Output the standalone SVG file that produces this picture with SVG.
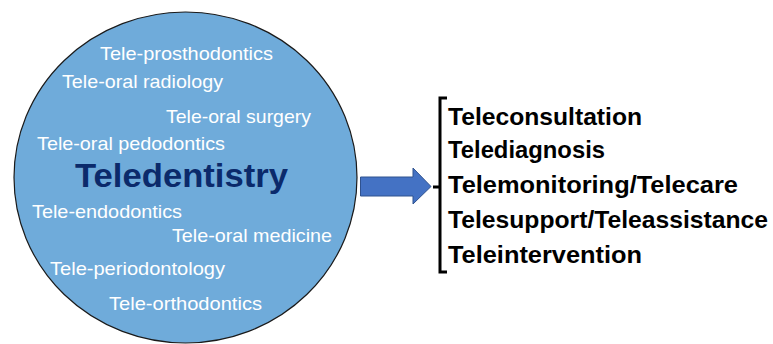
<svg xmlns="http://www.w3.org/2000/svg" width="773" height="344" viewBox="0 0 773 344">
<style>
.w{font-family:"Liberation Sans",Arial,sans-serif;font-size:19px;fill:#ffffff}
.main{font-family:"Liberation Sans",Arial,sans-serif;font-size:34px;font-weight:bold;fill:#0b2a6b}
.r{font-family:"Liberation Sans",Arial,sans-serif;font-size:24px;font-weight:bold;fill:#000000}
</style>
<rect width="773" height="344" fill="#ffffff"/>
<g id="circle">
<ellipse cx="185.5" cy="177.5" rx="171.5" ry="165.5" fill="#6fabda" stroke="#1a1a1a" stroke-width="1.2"/>
<text class="w" x="100" y="60" textLength="173" lengthAdjust="spacingAndGlyphs">Tele-prosthodontics</text>
<text class="w" x="62" y="88" textLength="161" lengthAdjust="spacingAndGlyphs">Tele-oral radiology</text>
<text class="w" x="166" y="123" textLength="145" lengthAdjust="spacingAndGlyphs">Tele-oral surgery</text>
<text class="w" x="37" y="150" textLength="188" lengthAdjust="spacingAndGlyphs">Tele-oral pedodontics</text>
<text class="main" x="75" y="187" textLength="213" lengthAdjust="spacingAndGlyphs">Teledentistry</text>
<text class="w" x="32" y="218" textLength="150" lengthAdjust="spacingAndGlyphs">Tele-endodontics</text>
<text class="w" x="172" y="242" textLength="160" lengthAdjust="spacingAndGlyphs">Tele-oral medicine</text>
<text class="w" x="50" y="275" textLength="175" lengthAdjust="spacingAndGlyphs">Tele-periodontology</text>
<text class="w" x="109" y="310" textLength="153" lengthAdjust="spacingAndGlyphs">Tele-orthodontics</text>
</g>
<g id="connectors">
<path d="M360.5,177 H413 V168 L431,186.5 L413,204 V196 H360.5 Z" fill="#4472c4" stroke="#2f528f" stroke-width="1"/>
</g>
<g id="list">
<path d="M447,98 H440 V272 H447 M433,187 H440" fill="none" stroke="#000000" stroke-width="3"/>
<text class="r" x="448" y="125" textLength="194" lengthAdjust="spacingAndGlyphs">Teleconsultation</text>
<text class="r" x="448" y="158" textLength="157" lengthAdjust="spacingAndGlyphs">Telediagnosis</text>
<text class="r" x="448" y="193" textLength="290" lengthAdjust="spacingAndGlyphs">Telemonitoring/Telecare</text>
<text class="r" x="448" y="228" textLength="320" lengthAdjust="spacingAndGlyphs">Telesupport/Teleassistance</text>
<text class="r" x="448" y="263" textLength="194" lengthAdjust="spacingAndGlyphs">Teleintervention</text>
</g>
</svg>
